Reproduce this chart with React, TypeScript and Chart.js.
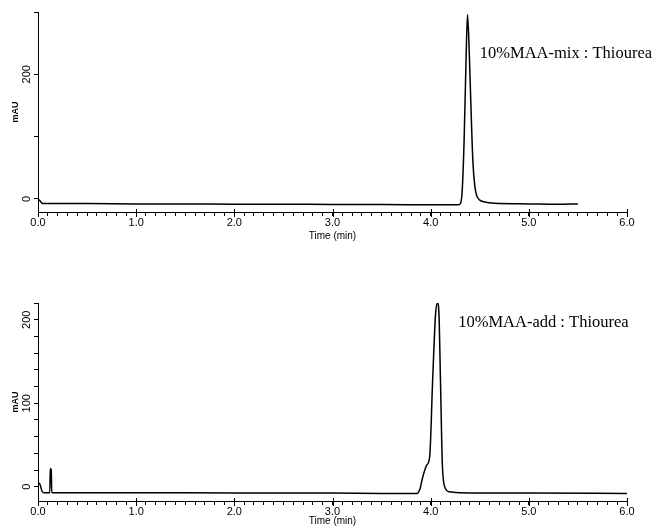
import React, { useEffect, useRef } from 'react';
import { Chart, registerables } from 'chart.js';

Chart.register(...registerables);

// ---- Data (time in min, absorbance in mAU) ----
const topTimes = [0.0, 0.02, 0.05, 0.1, 0.5, 1.0, 1.5, 2.0, 2.5, 3.0, 3.5, 4.0, 4.28, 4.3, 4.32, 4.34, 4.36, 4.375, 4.39, 4.41, 4.43, 4.45, 4.47, 4.5, 4.55, 4.65, 5.0, 5.3, 5.5];
const topValues = [0, -3, -7.5, -7.5, -7.5, -8, -8, -8.5, -8.5, -9, -9, -9.5, -9.5, -8, 10, 90, 220, 296, 250, 150, 60, 20, 5, -2, -5, -7, -8, -8.5, -8];

const bottomTimes = [0.0, 0.02, 0.04, 0.06, 0.12, 0.125, 0.135, 0.14, 0.5, 1.0, 2.0, 3.0, 3.5, 3.86, 3.89, 3.92, 3.96, 3.99, 4.02, 4.05, 4.07, 4.085, 4.1, 4.12, 4.15, 4.19, 4.3, 5.0, 6.0];
const bottomValues = [5, 3, -5, -7, -7, 22, 20, -7, -7, -7, -7.5, -7.5, -8, -8, -3, 12, 26, 36, 127, 207, 220, 205, 127, 24, -2, -6, -7, -7.5, -8];

const xTickLabels = ['0.0', '1.0', '2.0', '3.0', '4.0', '5.0', '6.0'];
const topYLabels = [0, 200];
const bottomYLabels = [0, 100, 200];
const topNote = '10%MAA-mix : Thiourea';
const bottomNote = '10%MAA-add : Thiourea';
const topNoteAt = [4.5, 233];
const bottomNoteAt = [4.28, 196];
const xTitle = 'Time (min)';
const yTitle = 'mAU';

function overlayPlugin(yLabels: number[], note: string, noteAt: number[]) {
  return {
    id: 'overlay',
    afterDraw(chart: any) {
      const ctx = chart.ctx;
      const ys = chart.scales.y;
      const xs = chart.scales.x;
      ctx.save();
      ctx.fillStyle = '#000';
      ctx.strokeStyle = '#000';
      ctx.lineWidth = 1;
      // taller major ticks at whole minutes
      xTickLabels.forEach((_, i) => {
        const px = Math.round(xs.getPixelForValue(i)) + 0.5;
        ctx.beginPath();
        ctx.moveTo(px, xs.top - 3);
        ctx.lineTo(px, xs.top + 5);
        ctx.stroke();
      });
      ctx.font = '11px "Liberation Sans"';
      ctx.textAlign = 'center';
      ctx.textBaseline = 'middle';
      yLabels.forEach((v) => {
        const py = ys.getPixelForValue(v);
        ctx.save();
        ctx.translate(ys.right - 11, py);
        ctx.rotate(-Math.PI / 2);
        ctx.fillText(String(v), 0, 0);
        ctx.restore();
      });
      ctx.font = '16.5px "Liberation Serif"';
      ctx.textAlign = 'left';
      ctx.fillText(note, xs.getPixelForValue(noteAt[0]), ys.getPixelForValue(noteAt[1]));
      ctx.restore();
    },
  };
}

function buildChart(
  canvas: HTMLCanvasElement,
  times: number[],
  values: number[],
  opts: { ymin: number; ymax: number; ystep: number; padTop: number; xHeight: number; titlePad: number; yLabels: number[]; note: string; noteAt: number[] }
) {
  const data = times.map((t, i) => ({ x: t, y: values[i] }));
  return new Chart(canvas, {
    type: 'line',
    data: {
      datasets: [
        {
          data,
          borderColor: '#000',
          borderWidth: 1.5,
          pointRadius: 0,
          cubicInterpolationMode: 'monotone',
          fill: false,
        },
      ],
    },
    options: {
      responsive: false,
      animation: false,
      layout: { padding: { top: opts.padTop, left: 0, right: 27, bottom: 0 } },
      plugins: { legend: { display: false }, tooltip: { enabled: false } },
      scales: {
        x: {
          type: 'linear',
          min: 0,
          max: 6,
          ticks: {
            stepSize: 0.1,
            autoSkip: false,
            maxRotation: 0,
            minRotation: 0,
            padding: 0,
            color: '#000',
            font: { family: '"Liberation Sans"', size: 11 },
            callback: (v: any) => {
              const n = Number(v);
              const r = Math.round(n);
              return Math.abs(n - r) < 1e-6 ? xTickLabels[r] : '';
            },
          },
          grid: { drawOnChartArea: false, drawTicks: true, tickLength: 4, color: '#000' },
          border: { color: '#000', width: 1 },
          title: {
            display: true,
            text: xTitle,
            color: '#000',
            font: { family: '"Liberation Sans"', size: 10 },
            padding: { top: 0, bottom: opts.titlePad },
          },
          afterFit: (s: any) => {
            s.height = opts.xHeight;
          },
        },
        y: {
          min: opts.ymin,
          max: opts.ymax,
          ticks: {
            stepSize: opts.ystep,
            includeBounds: false,
            padding: 0,
            callback: () => '',
          },
          grid: { drawOnChartArea: false, drawTicks: true, tickLength: 4, color: '#000' },
          border: { color: '#000', width: 1 },
          title: {
            display: true,
            text: yTitle,
            color: '#000',
            font: { family: '"Liberation Sans"', size: 9, weight: 'bold' },
            padding: { top: 10, bottom: 0 },
          },
          afterFit: (s: any) => {
            s.width = 38;
          },
        },
      },
    },
    plugins: [overlayPlugin(opts.yLabels, opts.note, opts.noteAt)],
  } as any);
}

export default function App() {
  const topRef = useRef<HTMLCanvasElement>(null);
  const botRef = useRef<HTMLCanvasElement>(null);

  useEffect(() => {
    const c1 = buildChart(topRef.current!, topTimes, topValues, {
      ymin: -21,
      ymax: 300,
      ystep: 100,
      padTop: 12,
      xHeight: 38,
      titlePad: 8,
      yLabels: topYLabels,
      note: topNote,
      noteAt: topNoteAt,
    });
    const c2 = buildChart(botRef.current!, bottomTimes, bottomValues, {
      ymin: -17,
      ymax: 220,
      ystep: 20,
      padTop: 43,
      xHeight: 26,
      titlePad: 0,
      yLabels: bottomYLabels,
      note: bottomNote,
      noteAt: bottomNoteAt,
    });
    return () => {
      c1.destroy();
      c2.destroy();
    };
  }, []);

  return (
    <div style={{ position: 'absolute', left: 0, top: 0, width: 654, height: 527, background: '#fff' }}>
      <canvas ref={topRef} width={654} height={250} style={{ position: 'absolute', left: 0, top: 0 }} />
      <canvas ref={botRef} width={654} height={267} style={{ position: 'absolute', left: 0, top: 260 }} />
    </div>
  );
}
